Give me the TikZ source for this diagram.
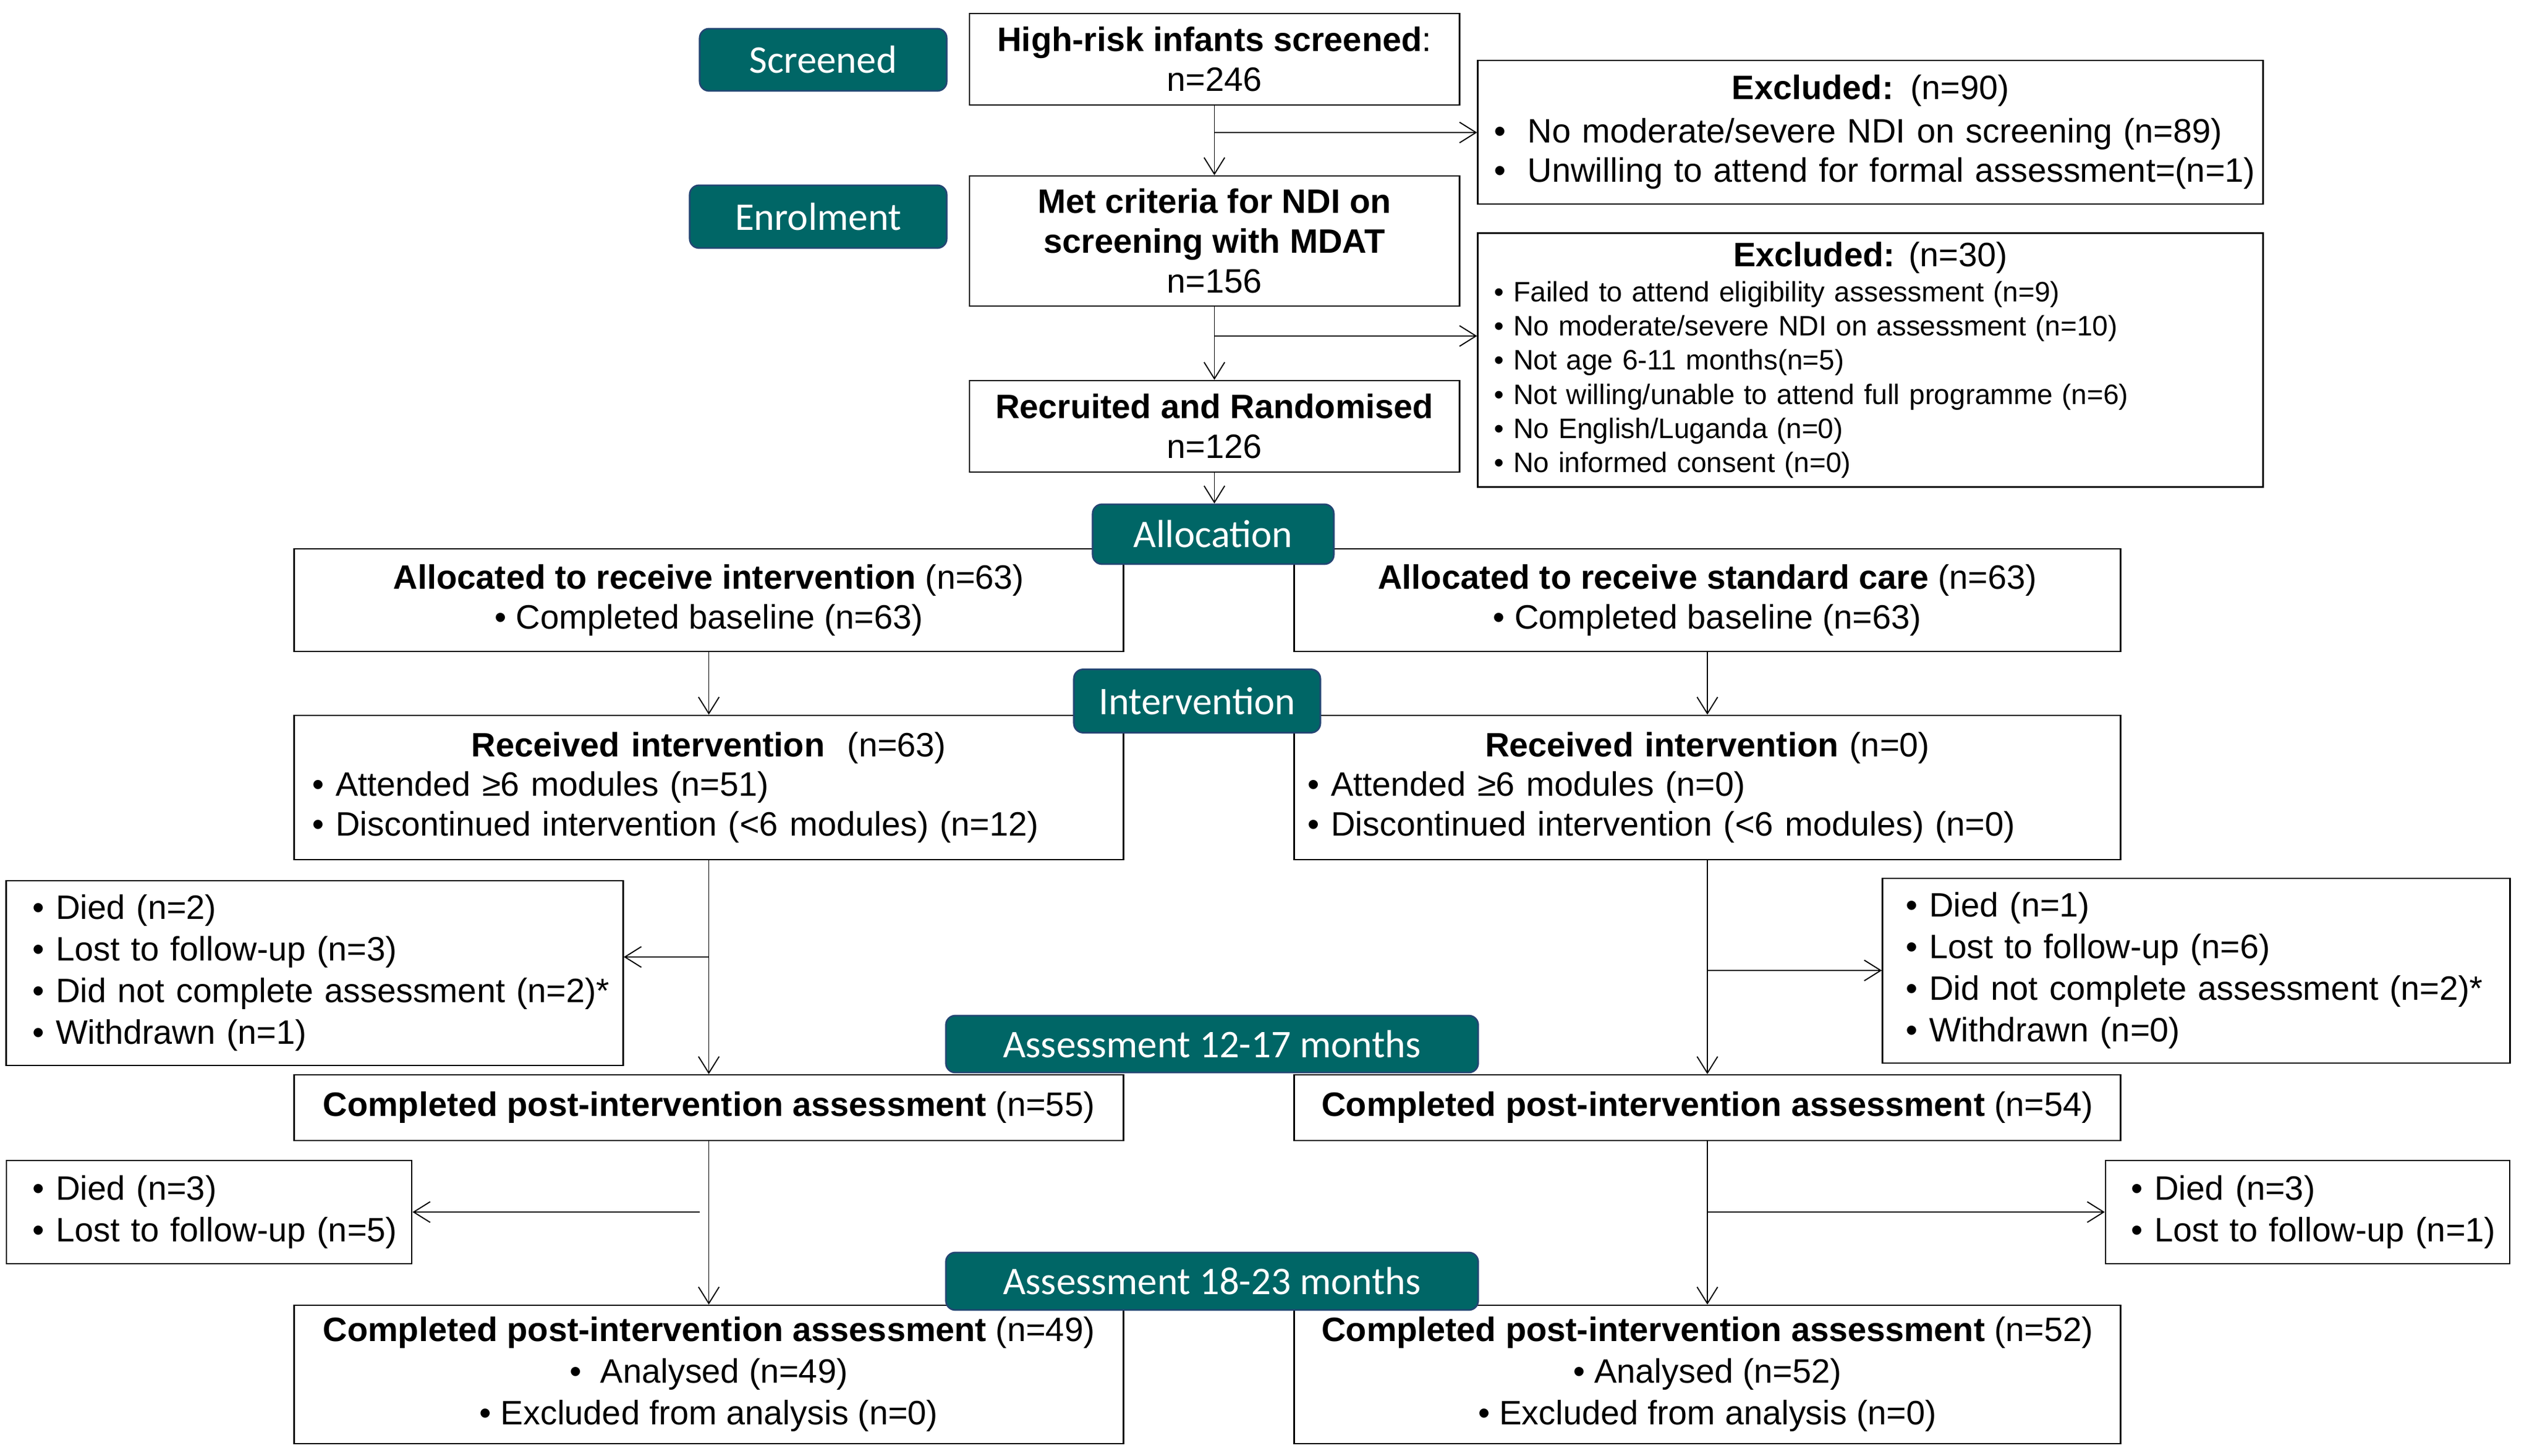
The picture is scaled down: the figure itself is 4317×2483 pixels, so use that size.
\documentclass[tikz,border=0pt]{standalone}
\usepackage{fontspec}
\setmainfont{Liberation Sans}
\newfontfamily\labfont{Carlito}
\usetikzlibrary{arrows.meta}
\definecolor{labfill}{RGB}{0,102,102}
\definecolor{labborder}{RGB}{35,70,115}
\newcommand\fbig{\fontsize{16.4}{19.3}\selectfont}
\newcommand\fbigw{\fontsize{16.4}{20.2}\selectfont}
\newcommand\fsmall{\fontsize{13.6}{16.5}\selectfont}
\newcommand\bulw{\makebox[0.57cm][l]{•}}
\newcommand\myleftline[1]{\makebox[\hsize][l]{#1}}
\newcommand\mycenline[1]{\makebox[\hsize][c]{#1}}
\begin{document}
\begin{tikzpicture}[x=0.01cm,y=-0.01cm,
  box/.style={draw=black, line width=0.7pt, inner sep=0pt, align=center, font=\fbig},
  lbox/.style={box, align=left},
  lab/.style={draw=labborder, line width=0.8pt, fill=labfill, rounded corners=0.16cm,
    text=white, inner sep=0pt, font=\labfont\fontsize{19}{22}\selectfont},
  arr/.style={draw=black, line width=0.55pt, -{Straight Barb[length=8pt,width=10pt,line width=0.55pt]}}
]
\useasboundingbox (0,0) rectangle (4317,2483);

% top column
\node[box, minimum width=8.35cm, minimum height=1.56cm] (high) at (2070.5,101)
  {\textbf{High-risk infants screened}:\\n=246};
\node[lbox, minimum width=13.38cm, minimum height=2.45cm, inner xsep=0.28cm, text width=12.82cm] (ex1) at (3189,225.5)
  {\mycenline{\textbf{Excluded:} (n=90)}\\[1.5pt]
   \myleftline{\bulw No moderate/severe NDI on screening (n=89)}\\
   \myleftline{\bulw Unwilling to attend for formal assessment=(n=1)}};
\node[box, minimum width=8.35cm, minimum height=2.22cm] (met) at (2070.5,411)
  {\textbf{Met criteria for NDI on}\\\textbf{screening with MDAT}\\n=156};
\node[lbox, font=\fsmall, minimum width=13.38cm, minimum height=4.33cm, inner xsep=0.28cm, text width=12.82cm] (ex2) at (3189,614)
  {\mycenline{\fbig\textbf{Excluded:} (n=30)}\\[0.6pt]
   \myleftline{• Failed to attend eligibility assessment (n=9)}\\
   \myleftline{• No moderate/severe NDI on assessment (n=10)}\\
   \myleftline{• Not age 6-11 months(n=5)}\\
   \myleftline{• Not willing/unable to attend full programme (n=6)}\\
   \myleftline{• No English/Luganda (n=0)}\\
   \myleftline{• No informed consent (n=0)}};
\node[box, minimum width=8.35cm, minimum height=1.56cm] (rec) at (2070.5,727)
  {\textbf{Recruited and Randomised}\\n=126};

% allocation
\node[box, minimum width=14.13cm, minimum height=1.75cm] (allocL) at (1208.5,1023.5)
  {\textbf{Allocated to receive intervention} (n=63)\\• Completed baseline (n=63)};
\node[box, minimum width=14.08cm, minimum height=1.75cm] (allocR) at (2911,1023.5)
  {\textbf{Allocated to receive standard care} (n=63)\\• Completed baseline (n=63)};

% intervention
\node[lbox, minimum width=14.13cm, minimum height=2.46cm, inner xsep=0.31cm, text width=13.51cm] (recL) at (1208.5,1343)
  {\mycenline{\textbf{Received intervention}\ \ (n=63)}\\
   \myleftline{• Attended ≥6 modules (n=51)}\\
   \myleftline{• Discontinued intervention (<6 modules) (n=12)}};
\node[lbox, minimum width=14.08cm, minimum height=2.46cm, inner xsep=0.23cm, text width=13.62cm] (recR) at (2911,1343)
  {\mycenline{\textbf{Received intervention} (n=0)}\\
   \myleftline{• Attended ≥6 modules (n=0)}\\
   \myleftline{• Discontinued intervention (<6 modules) (n=0)}};

\node[lbox, font=\fbigw, minimum width=10.51cm, minimum height=3.15cm, inner xsep=0.45cm, text width=9.61cm] (lossL) at (536.5,1659.5)
  {\myleftline{• Died (n=2)}\\\myleftline{• Lost to follow-up (n=3)}\\\myleftline{• Did not complete assessment (n=2)*}\\\myleftline{• Withdrawn (n=1)}};
\node[lbox, font=\fbigw, minimum width=10.69cm, minimum height=3.15cm, inner xsep=0.40cm, text width=9.89cm] (lossR) at (3744.5,1655.5)
  {\myleftline{• Died (n=1)}\\\myleftline{• Lost to follow-up (n=6)}\\\myleftline{• Did not complete assessment (n=2)*}\\\myleftline{• Withdrawn (n=0)}};

% assessment 12-17
\node[box, minimum width=14.13cm, minimum height=1.12cm] (compL) at (1208.5,1889)
  {\textbf{Completed post-intervention assessment} (n=55)};
\node[box, minimum width=14.08cm, minimum height=1.12cm] (compR) at (2911,1889)
  {\textbf{Completed post-intervention assessment} (n=54)};

\node[lbox, font=\fbigw, minimum width=6.91cm, minimum height=1.76cm, inner xsep=0.45cm, text width=6.01cm] (diedL) at (356.5,2067)
  {\myleftline{• Died (n=3)}\\\myleftline{• Lost to follow-up (n=5)}};
\node[lbox, font=\fbigw, minimum width=6.89cm, minimum height=1.76cm, inner xsep=0.44cm, text width=6.01cm] (diedR) at (3934.5,2067)
  {\myleftline{• Died (n=3)}\\\myleftline{• Lost to follow-up (n=1)}};

% assessment 18-23
\node[box, font=\fbigw, minimum width=14.13cm, minimum height=2.36cm] (finL) at (1208.5,2344)
  {\textbf{Completed post-intervention assessment} (n=49)\\•\ \ Analysed (n=49)\\• Excluded from analysis (n=0)};
\node[box, font=\fbigw, minimum width=14.08cm, minimum height=2.36cm] (finR) at (2911,2344)
  {\textbf{Completed post-intervention assessment} (n=52)\\• Analysed (n=52)\\• Excluded from analysis (n=0)};

% stage labels
\node[lab, minimum width=4.21cm, minimum height=1.06cm] (lscr) at (1403.5,102) {Screened};
\node[lab, minimum width=4.38cm, minimum height=1.07cm] (lenr) at (1395,369.5) {Enrolment};
\node[lab, minimum width=4.11cm, minimum height=1.02cm] (lalloc) at (2068.5,911) {Allocation};
\node[lab, minimum width=4.20cm, minimum height=1.08cm] (lint) at (2041,1195.5) {Intervention};
\node[lab, minimum width=9.07cm, minimum height=0.97cm] (lass1) at (2066.5,1780.5) {Assessment 12-17 months};
\node[lab, minimum width=9.07cm, minimum height=0.98cm] (lass2) at (2066.5,2185) {Assessment 18-23 months};

% connectors
\coordinate (b1) at (2070.5,226);
\coordinate (b2) at (2070.5,573);
\coordinate (b3) at (1208.5,1632);
\coordinate (b4) at (2911,1655);
\coordinate (b5) at (1193,2067);
\coordinate (b6) at (2911,2067);

\draw[arr] (high) -- (met);
\draw[arr] (b1) -- (b1 -| ex1.west);
\draw[arr] (met) -- (rec);
\draw[arr] (b2) -- (b2 -| ex2.west);
\draw[arr] (rec.south) -- (rec.south |- lalloc.north);
\draw[arr] (allocL) -- (recL);
\draw[arr] (allocR) -- (recR);
\draw[arr] (recL) -- (compL);
\draw[arr] (b3) -- (b3 -| lossL.east);
\draw[arr] (recR) -- (compR);
\draw[arr] (b4) -- (b4 -| lossR.west);
\draw[arr] (compL) -- (finL);
\draw[arr] (b5) -- (b5 -| diedL.east);
\draw[arr] (compR) -- (finR);
\draw[arr] (b6) -- (b6 -| diedR.west);
\end{tikzpicture}
\end{document}
